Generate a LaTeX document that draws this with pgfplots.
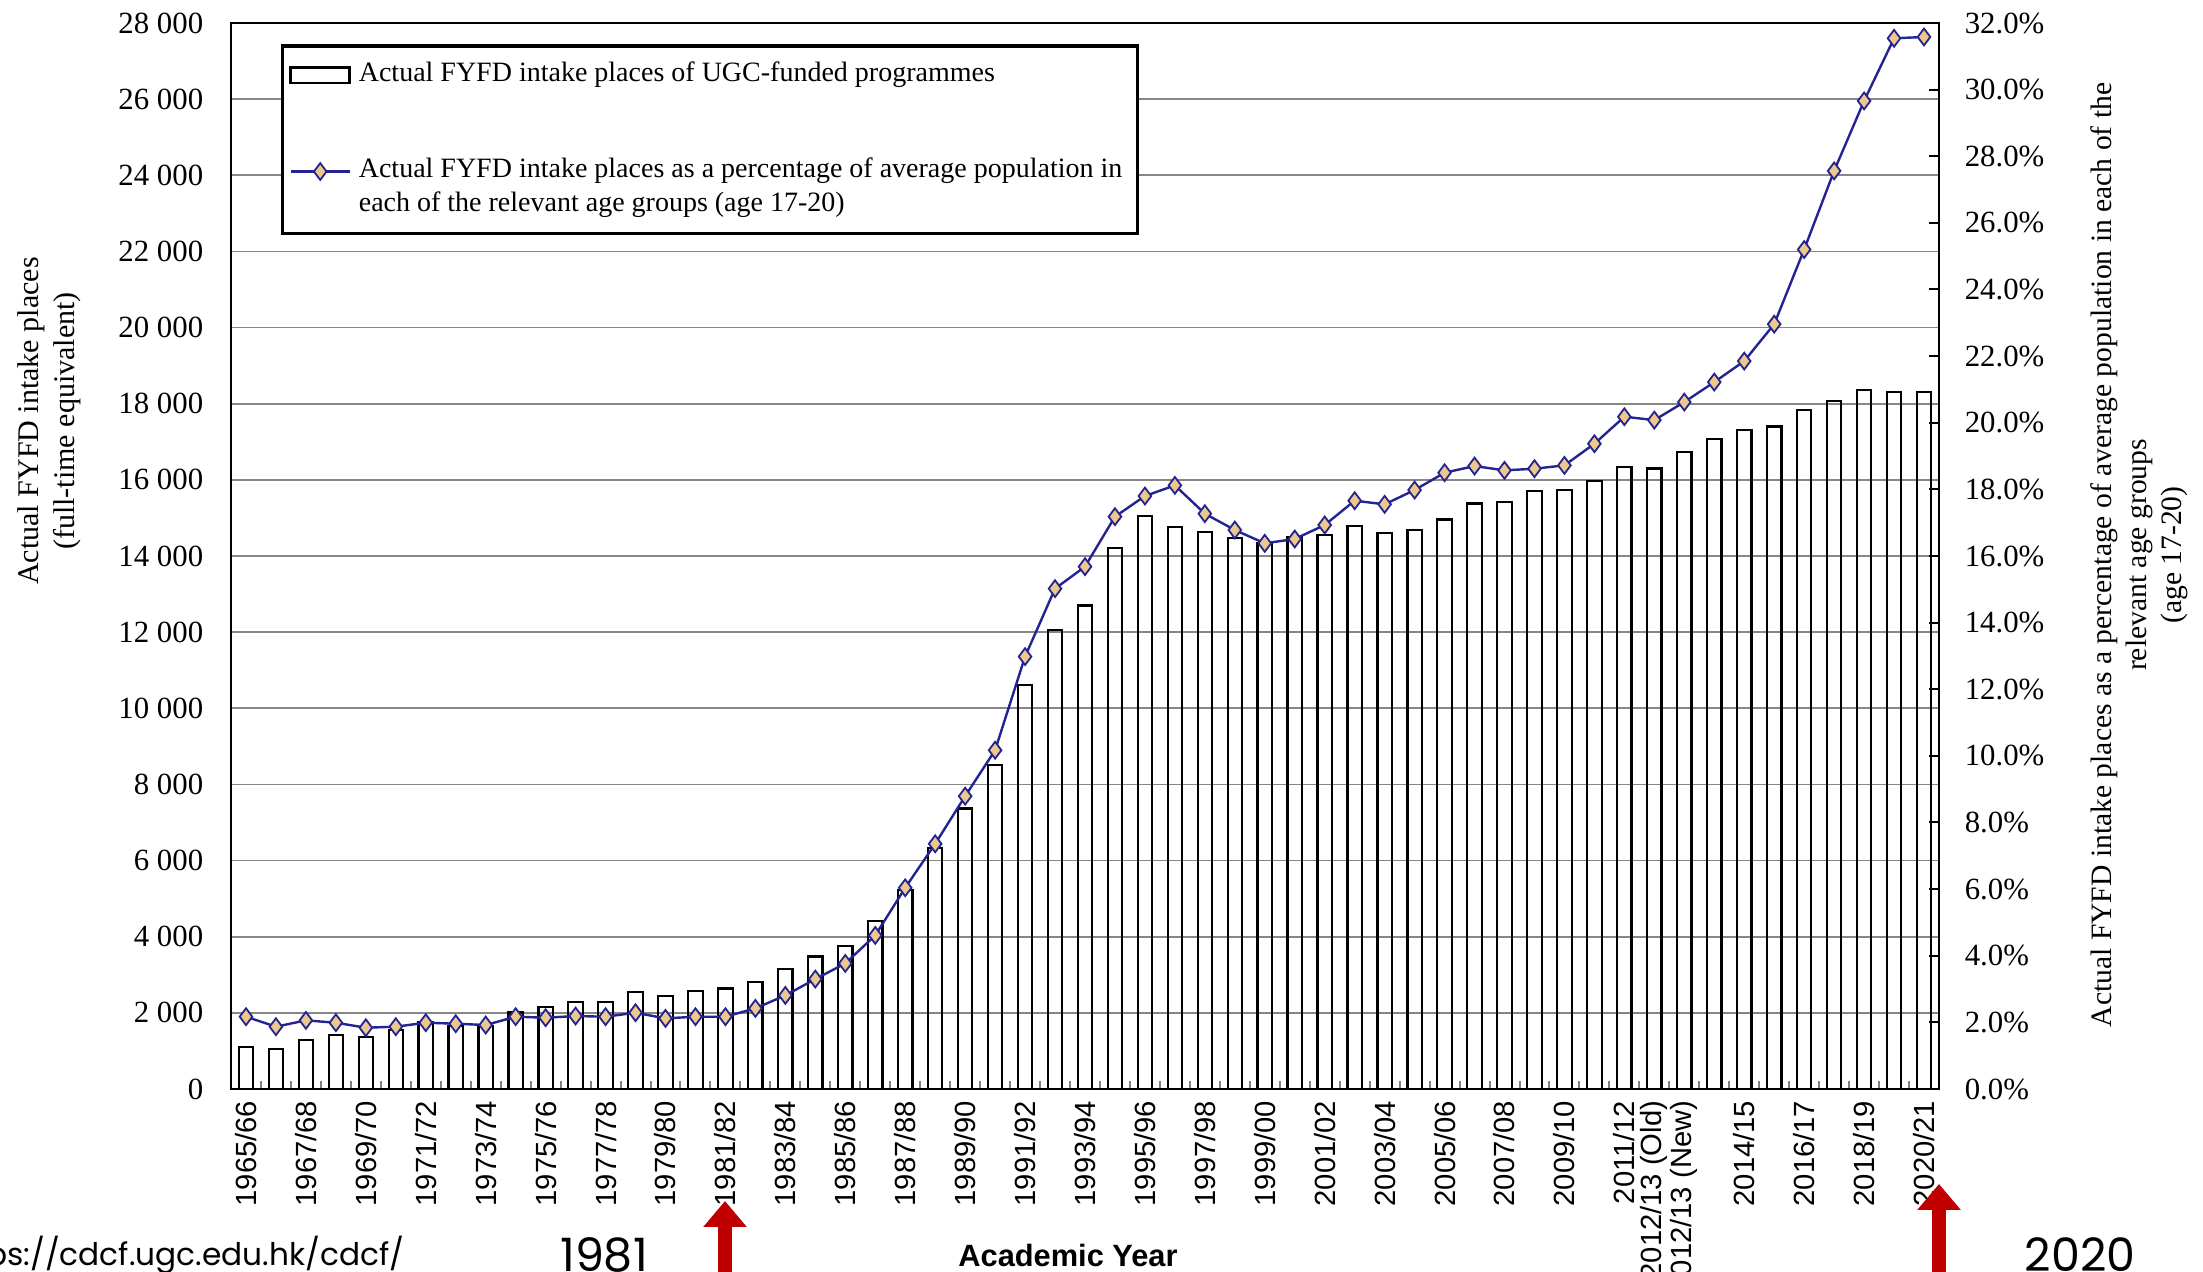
\documentclass[border=0pt]{standalone}
\usepackage{fontspec}
\setmainfont{Liberation Serif}
\setsansfont{Liberation Sans}
\newfontfamily\anno{Poppins}
\usepackage{pgfplots}
\pgfplotsset{compat=1.18}
\usetikzlibrary{arrows.meta}
\definecolor{navy}{RGB}{35,35,145}
\definecolor{tanfill}{RGB}{236,200,140}
\definecolor{darkred}{RGB}{192,0,0}
\definecolor{gridgray}{RGB}{135,135,135}
\pgfplotsset{/pgf/number format/assume math mode=true,
  myline legend/.style={legend image code/.code={\draw[mark repeat=2,mark phase=2,##1,yshift=10pt] plot coordinates {(0pt,0pt) (7.4pt,0pt) (14.75pt,0pt)};}},
  mybar legend/.style={legend image code/.code={\draw[black, line width=0.6pt, fill=white] (0pt,-0.3pt) rectangle (14.75pt,3.5pt);}}}
\begin{document}
\begin{tikzpicture}
\useasboundingbox (-57.75pt,-45.75pt) rectangle (493pt,272.25pt);
\begin{axis}[
  at={(0pt,0pt)}, anchor=south west,
  scale only axis, width=427pt, height=266.5pt,
  xmin=-0.5, xmax=56.5, ymin=0, ymax=28000,
  ytick={0,2000,...,28000}, scaled y ticks=false,
  ymajorgrids, major grid style={gridgray, line width=0.45pt},
  axis line style={black, line width=0.6pt},
  ytick style={draw=none}, ytick pos=left,
  yticklabel style={font=\fontsize{7.7}{8}\selectfont, inner sep=0pt, anchor=east,
    /pgf/number format/1000 sep={\ }},
  yticklabel shift=6.75pt,
  xtick={0,2,4,6,8,10,12,14,16,18,20,22,24,26,28,30,32,34,36,38,40,42,44,46,47,48,50,52,54,56},
  xticklabels={1965/66,1967/68,1969/70,1971/72,1973/74,1975/76,1977/78,1979/80,1981/82,1983/84,1985/86,1987/88,1989/90,1991/92,1993/94,1995/96,1997/98,1999/00,2001/02,2003/04,2005/06,2007/08,2009/10,2011/12,2012/13 (Old),2012/13 (New),2014/15,2016/17,2018/19,2020/21},
  xticklabel style={rotate=90, anchor=east, inner sep=0pt, font=\sffamily\fontsize{7.3}{8}\selectfont},
  xticklabel shift=2.75pt,
  xtick pos=bottom,
  major x tick style={draw=none},
  minor xtick={0.5,1.5,...,55.5},
  minor x tick style={gray, line width=0.5pt},
  minor tick length=2pt,
]
\addplot[ybar, bar width=3.6pt, draw=black, line width=0.55pt, fill=none] coordinates {
(0,1110) (1,1050) (2,1290) (3,1420) (4,1360) (5,1550) (6,1750) (7,1650) (8,1650) (9,2010)
(10,2160) (11,2290) (12,2290) (13,2540) (14,2450) (15,2580) (16,2640) (17,2800) (18,3150) (19,3480)
(20,3760) (21,4420) (22,5230) (23,6330) (24,7370) (25,8520) (26,10620) (27,12050) (28,12700) (29,14220)
(30,15040) (31,14760) (32,14620) (33,14470) (34,14350) (35,14500) (36,14550) (37,14790) (38,14610) (39,14690)
(40,14960) (41,15380) (42,15420) (43,15700) (44,15730) (45,15960) (46,16330) (47,16300) (48,16740) (49,17070)
(50,17300) (51,17400) (52,17830) (53,18070) (54,18350) (55,18310) (56,18310)
};
\end{axis}
\begin{axis}[
  at={(0pt,0pt)}, anchor=south west,
  scale only axis, width=427pt, height=266.5pt,
  xmin=-0.5, xmax=56.5, ymin=0, ymax=32,
  axis x line=none, axis y line*=right,
  axis line style={black, line width=0.6pt},
  ytick={0,2,...,32},
  yticklabel={\pgfmathprintnumber[fixed,fixed zerofill,precision=1]{\tick}\%},
  yticklabel style={font=\fontsize{7.7}{8}\selectfont, inner sep=0pt, anchor=west},
  yticklabel shift=6.25pt,
  ytick style={black, line width=0.5pt}, tick align=inside, major tick length=2.5pt,
  legend style={at={(axis description cs:0.0293,0.98)}, anchor=north west,
    draw=black, line width=0.8pt, fill=white,
    font=\fontsize{7.0}{8.4}\selectfont,
    inner xsep=1.7pt, inner ysep=2.0pt, row sep=12.7pt,
    cells={anchor=base west}},
]
\addlegendimage{mybar legend}
\addlegendentry{Actual FYFD intake places of UGC-funded programmes}
\addplot[navy, line width=0.6pt, mark=diamond*, mark size=2.1pt,
  mark options={fill=tanfill, draw=navy, line width=0.45pt}, myline legend]
coordinates {
(0,2.17) (1,1.87) (2,2.06) (3,1.99) (4,1.84) (5,1.87) (6,1.99) (7,1.96) (8,1.92) (9,2.17)
(10,2.14) (11,2.19) (12,2.17) (13,2.29) (14,2.12) (15,2.17) (16,2.17) (17,2.42) (18,2.81) (19,3.30)
(20,3.77) (21,4.61) (22,6.04) (23,7.36) (24,8.79) (25,10.17) (26,12.98) (27,15.02) (28,15.68) (29,17.18)
(30,17.80) (31,18.12) (32,17.27) (33,16.78) (34,16.38) (35,16.51) (36,16.93) (37,17.66) (38,17.55) (39,17.98)
(40,18.50) (41,18.70) (42,18.57) (43,18.62) (44,18.72) (45,19.37) (46,20.18) (47,20.08) (48,20.62) (49,21.22)
(50,21.85) (51,22.96) (52,25.20) (53,27.56) (54,29.66) (55,31.54) (56,31.58)
};
\addlegendentry{\begin{tabular}[b]{@{}l@{}}Actual FYFD intake places as a percentage of average population in\\each of the relevant age groups (age 17-20)\end{tabular}}
\end{axis}
% axis titles
\node[rotate=90, align=center, font=\fontsize{7.5}{9}\selectfont] at (-45.5pt,167pt) {Actual FYFD intake places\\(full-time equivalent)};
\node[rotate=90, align=center, font=\fontsize{7.4}{8.75}\selectfont] at (477pt,133.5pt) {Actual FYFD intake places as a percentage of average population in each of the\\relevant age groups\\(age 17-20)};
\node[font=\sffamily\bfseries\fontsize{7.7}{8}\selectfont] at (209.25pt,-41.5pt) {Academic Year};
% annotations
\node[anchor=east, inner sep=0pt, font=\anno\fontsize{7.8}{9}\selectfont] at (43.5pt,-41.5pt) {https://cdcf.ugc.edu.hk/cdcf/};
\node[inner sep=0pt, font=\anno\fontsize{11.5}{12}\selectfont] at (93.25pt,-41.5pt) {1981};
\node[inner sep=0pt, font=\anno\fontsize{11.5}{12}\selectfont] at (462.25pt,-41.5pt) {2020};
\draw[darkred, line width=3.5pt, -{Triangle[width=10.5pt,length=6.5pt]}] (123.5pt,-50pt) -- (123.5pt,-28pt);
\draw[darkred, line width=3.5pt, -{Triangle[width=10.5pt,length=6.5pt]}] (427pt,-50pt) -- (427pt,-23.75pt);
\end{tikzpicture}
\end{document}
